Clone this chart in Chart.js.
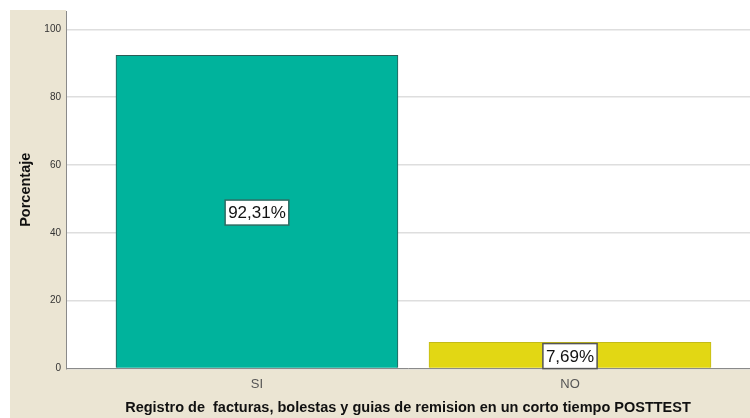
<!DOCTYPE html>
<html>
<head>
<meta charset="utf-8">
<script src="https://cdn.jsdelivr.net/npm/chart.js@4.4.0/dist/chart.umd.min.js"></script>
<style>
  html, body { margin: 0; padding: 0; background: #fff; }
  #wrap { width: 750px; height: 418px; }
</style>
</head>
<body>
<div id="wrap"><canvas id="chart"></canvas></div>
<script>
// Chart data
const categories = ['SI', 'NO'];
const positions = [1, 2];
const percentages = [92.31, 7.69];
const valueLabels = ['92,31%', '7,69%'];
const yTicks = [0, 20, 40, 60, 80, 100];

const barColors = ['#00b39c', '#e2d714'];
const barBorders = ['#2b5c56', '#c4bb18'];
const labelBorders = ['#2e6b63', '#555555'];

const FONT = '"Liberation Sans", Arial, sans-serif';

// Beige frame behind the white plot area
const backdrop = {
  id: 'backdrop',
  beforeDraw(chart) {
    const { ctx, chartArea } = chart;
    ctx.save();
    ctx.fillStyle = '#ebe5d3';
    ctx.fillRect(10, 10, chart.width - 10, chart.height - 10);
    ctx.fillStyle = '#ffffff';
    ctx.fillRect(chartArea.left, 0, chartArea.right - chartArea.left, chartArea.bottom);
    ctx.restore();
  }
};

// Boxed value labels in the middle of each bar
const boxLabels = {
  id: 'boxLabels',
  afterDatasetsDraw(chart) {
    const { ctx } = chart;
    const meta = chart.getDatasetMeta(0);
    ctx.save();
    ctx.font = '17px ' + FONT;
    ctx.textAlign = 'center';
    ctx.textBaseline = 'middle';
    meta.data.forEach((bar, i) => {
      const cx = bar.x;
      const cy = (bar.y + bar.base) / 2 + 1;
      const w = ctx.measureText(valueLabels[i]).width + 6;
      const h = 25;
      ctx.fillStyle = '#ffffff';
      ctx.fillRect(cx - w / 2, cy - h / 2, w, h);
      ctx.strokeStyle = labelBorders[i];
      ctx.lineWidth = 1.5;
      ctx.strokeRect(cx - w / 2, cy - h / 2, w, h);
      ctx.fillStyle = '#111111';
      ctx.fillText(valueLabels[i], cx, cy + 1);
    });
    ctx.restore();
  }
};

new Chart(document.getElementById('chart'), {
  type: 'bar',
  data: {
    datasets: [{
      data: positions.map((p, i) => ({ x: p, y: percentages[i] })),
      backgroundColor: barColors,
      borderColor: barBorders,
      borderWidth: 1,
      barThickness: 282
    }]
  },
  options: {
    responsive: true,
    maintainAspectRatio: false,
    animation: false,
    layout: { padding: { left: 10, top: 0, right: 0, bottom: 0 } },
    plugins: {
      legend: { display: false },
      tooltip: { enabled: false }
    },
    scales: {
      x: {
        type: 'linear',
        offset: false,
        min: 0.39,
        max: 2.575,
        afterBuildTicks(scale) {
          scale.ticks = positions.map(v => ({ value: v }));
        },
        afterFit(scale) { scale.height = 49.5; },
        grid: { display: false, drawTicks: false },
        border: { display: true, color: '#8a8a8a', width: 1 },
        ticks: {
          padding: 8,
          color: '#555555',
          font: { family: FONT, size: 13 },
          callback: value => categories[positions.indexOf(value)]
        },
        title: {
          display: true,
          text: 'Registro de  facturas, bolestas y guias de remision en un corto tiempo POSTTEST',
          color: '#111111',
          font: { family: FONT, size: 14.5, weight: 'bold' },
          padding: { top: 0, bottom: 1 }
        }
      },
      y: {
        min: 0,
        max: 105.4,
        afterBuildTicks(scale) {
          scale.ticks = yTicks.map(v => ({ value: v }));
        },
        afterFit(scale) { scale.width = 56; },
        grid: { color: '#dedede', lineWidth: 1.5, drawTicks: false },
        border: { display: true, color: '#8a8a8a', width: 1 },
        ticks: {
          padding: 5,
          color: '#333333',
          font: { family: FONT, size: 10 }
        },
        title: {
          display: true,
          text: 'Porcentaje',
          color: '#111111',
          font: { family: FONT, size: 14.5, weight: 'bold' },
          padding: { top: 7, bottom: 0 }
        }
      }
    }
  },
  plugins: [backdrop, boxLabels]
});
</script>
</body>
</html>
